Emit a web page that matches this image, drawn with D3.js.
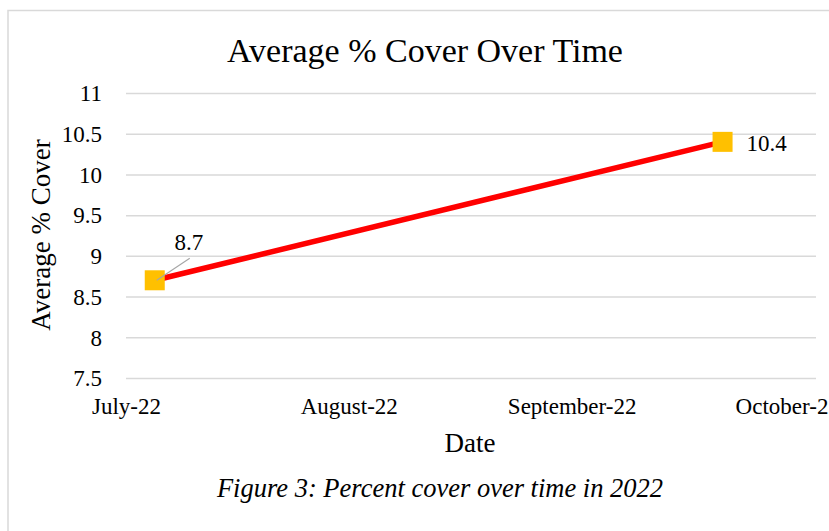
<!DOCTYPE html>
<html>
<head>
<meta charset="utf-8">
<script src="https://cdn.jsdelivr.net/npm/d3@7"></script>
<style>
  html, body { margin: 0; padding: 0; background: #fff; }
  text { font-family: "Liberation Serif", "Times New Roman", serif; fill: #000; }
</style>
</head>
<body>
<div id="chart"></div>
<script>
// data
var dates = ["2022-07-05", "2022-09-22"];
var cover = [8.7, 10.4];
var yTicks = [7.5, 8, 8.5, 9, 9.5, 10, 10.5, 11];
var monthTicks = ["2022-07-01", "2022-08-01", "2022-09-01", "2022-10-01"];
var monthLabels = ["July-22", "August-22", "September-22", "October-22"];

var parse = d3.timeParse("%Y-%m-%d");
var points = dates.map(function(d, i) { return { date: parse(d), value: cover[i] }; });

var width = 829,
    height = 531;

var x = d3.scaleTime()
    .domain([parse("2022-07-01"), parse("2022-10-05")])
    .range([126, 816]);

var y = d3.scaleLinear()
    .domain([7.5, 11])
    .range([378, 93]);

var svg = d3.select("#chart").append("svg")
    .attr("width", width)
    .attr("height", height);

svg.append("rect")
    .attr("width", width).attr("height", height)
    .attr("fill", "#fff");

// chart area border (runs off the right and bottom edges)
svg.append("path")
    .attr("d", "M8,540V10.5H840")
    .attr("fill", "none")
    .attr("stroke", "#d9d9d9")
    .attr("stroke-width", 1.5);

// title
svg.append("text")
    .attr("x", 425).attr("y", 62)
    .attr("text-anchor", "middle")
    .style("font-size", "34px")
    .text("Average % Cover Over Time");

// y axis with gridlines
var yAxis = svg.append("g")
    .attr("transform", "translate(126,0)")
    .call(d3.axisLeft(y).tickValues(yTicks).tickSize(-(816 - 126)).tickPadding(24)
        .tickFormat(function(d) { return d3.format("")(d); }));
yAxis.select(".domain").remove();
yAxis.selectAll("line").attr("stroke", "#d9d9d9").attr("stroke-width", 1.5);
yAxis.selectAll("text")
    .style("font-size", "23px")
    .style("font-family", "'Liberation Serif', 'Times New Roman', serif")
    .attr("fill", "#000")
    .attr("dy", "0.34em");

// x axis labels
var xAxis = svg.append("g")
    .attr("transform", "translate(0,378)")
    .call(d3.axisBottom(x).tickValues(monthTicks.map(parse)).tickSize(0).tickPadding(0)
        .tickFormat(function(d, i) { return monthLabels[i]; }));
xAxis.select(".domain").remove();
xAxis.selectAll("text")
    .style("font-size", "23px")
    .style("font-family", "'Liberation Serif', 'Times New Roman', serif")
    .attr("fill", "#000")
    .attr("dy", null)
    .attr("y", 36);

// axis titles
svg.append("text")
    .attr("transform", "translate(50,235) rotate(-90)")
    .attr("text-anchor", "middle")
    .style("font-size", "27px")
    .text("Average % Cover");

svg.append("text")
    .attr("x", 470).attr("y", 452)
    .attr("text-anchor", "middle")
    .style("font-size", "27px")
    .text("Date");

// line
var line = d3.line()
    .x(function(d) { return x(d.date); })
    .y(function(d) { return y(d.value); });

svg.append("path")
    .datum(points)
    .attr("d", line)
    .attr("fill", "none")
    .attr("stroke", "#ff0000")
    .attr("stroke-width", 5.5);

// markers
svg.selectAll(".marker")
    .data(points)
    .enter().append("rect")
    .attr("class", "marker")
    .attr("x", function(d) { return x(d.date) - 10; })
    .attr("y", function(d) { return y(d.value) - 10; })
    .attr("width", 20)
    .attr("height", 20)
    .attr("fill", "#ffc000");

// data labels
var p0 = points[0], p1 = points[1];
svg.append("line")
    .attr("x1", x(p0.date) + 2).attr("y1", y(p0.value))
    .attr("x2", x(p0.date) + 35).attr("y2", y(p0.value) - 22)
    .attr("stroke", "#a6a6a6")
    .attr("stroke-width", 1.2);

svg.append("text")
    .attr("x", x(p0.date) + 34).attr("y", y(p0.value) - 30)
    .attr("text-anchor", "middle")
    .style("font-size", "23px")
    .text(d3.format(".1f")(p0.value));

svg.append("text")
    .attr("x", x(p1.date) + 24).attr("y", y(p1.value) + 9)
    .style("font-size", "23px")
    .text(d3.format(".1f")(p1.value));

// caption
svg.append("text")
    .attr("x", 440).attr("y", 497)
    .attr("text-anchor", "middle")
    .style("font-size", "26.5px")
    .style("font-style", "italic")
    .text("Figure 3: Percent cover over time in 2022");
</script>
</body>
</html>
